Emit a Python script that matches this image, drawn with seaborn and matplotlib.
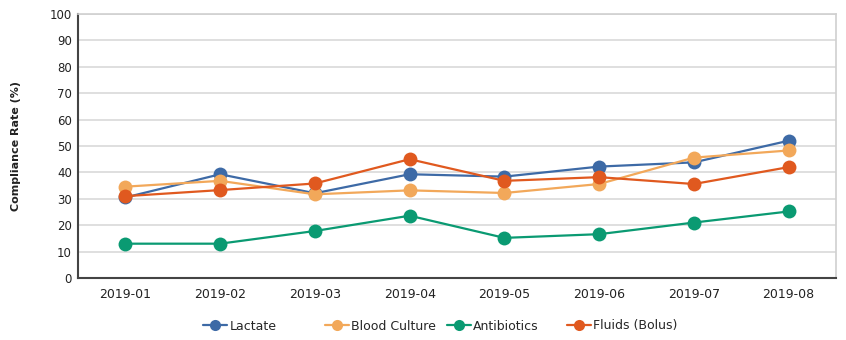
import matplotlib
matplotlib.use("Agg")
import matplotlib.pyplot as plt
import seaborn as sns
import pandas as pd
from matplotlib.lines import Line2D

months = ["2019-01", "2019-02", "2019-03", "2019-04", "2019-05", "2019-06", "2019-07", "2019-08"]
lactate = [30.5, 39.3, 32.1, 39.3, 38.4, 42.2, 43.8, 52.0]
blood_culture = [34.6, 36.8, 31.7, 33.2, 32.2, 35.6, 45.6, 48.3]
antibiotics = [13.0, 13.0, 17.8, 23.6, 15.2, 16.6, 21.0, 25.2]
fluids = [31.0, 33.3, 35.8, 45.0, 36.8, 38.2, 35.6, 42.0]

series_names = ["Lactate", "Blood Culture", "Antibiotics", "Fluids (Bolus)"]
series_values = [lactate, blood_culture, antibiotics, fluids]
colors = ["#3d6aa6", "#f2a85a", "#0a9a72", "#e0591f"]

rows = []
for name, vals in zip(series_names, series_values):
    for m, v in zip(months, vals):
        rows.append({"Month": m, "Series": name, "Value": v})
df = pd.DataFrame(rows)

sns.set_theme(style="white")
plt.rcParams["font.family"] = ["DejaVu Sans"]

fig = plt.figure(figsize=(8.46, 3.40), dpi=100)
ax = fig.add_axes([78 / 846, 1 - 278 / 340, (836 - 78) / 846, (278 - 14) / 340])

sns.lineplot(data=df, x="Month", y="Value", hue="Series", hue_order=series_names,
             palette=colors, marker="o", markersize=10, markeredgewidth=0,
             linewidth=1.6, ax=ax, legend=False, sort=False)

ax.set_xlim(-0.5, len(months) - 0.5)
ax.set_ylim(0, 100)
ax.set_yticks(range(0, 101, 10))
ax.yaxis.grid(True, color="#dcdcdc", linewidth=1.3)
ax.set_axisbelow(True)
ax.set_xlabel("")
ax.set_ylabel("Compliance Rate (%)", fontsize=8, fontweight="bold", color="#222222")
ax.yaxis.set_label_coords(-0.075, 0.5)
ax.tick_params(axis="x", labelsize=9, colors="#222222", length=0, pad=7.5)
ax.tick_params(axis="y", labelsize=8.5, colors="#222222", length=0, pad=4.3)

for s in ["left", "bottom"]:
    ax.spines[s].set_color("#444444")
    ax.spines[s].set_linewidth(1.5)
for s in ["right", "top"]:
    ax.spines[s].set_color("#d0d0d0")
    ax.spines[s].set_linewidth(1.2)

# legend entries placed at fixed positions below the plot
legend_x = [203, 325, 447, 567]
for name, col, lx in zip(series_names, colors, legend_x):
    h = Line2D([], [], color=col, marker="o", markersize=8, markeredgewidth=0, linewidth=1.6)
    fig.legend([h], [name], loc="center left", bbox_to_anchor=(lx / 846, 1 - 326 / 340),
               frameon=False, fontsize=9, handlelength=1.9, handletextpad=0.2,
               borderpad=0, borderaxespad=0)

fig.savefig("out.png", dpi=100)
